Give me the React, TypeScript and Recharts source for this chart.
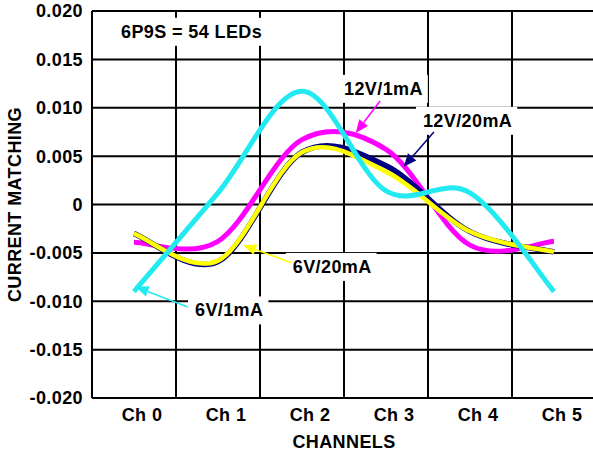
import React, { useLayoutEffect, useRef, useState } from 'react';
import { LineChart, Line, XAxis, YAxis, CartesianGrid, ReferenceDot, ReferenceLine } from 'recharts';

// channel index and the four measured curves
const channels = [0, 1, 2, 3, 4, 5];
const channelNames = ['Ch 0', 'Ch 1', 'Ch 2', 'Ch 3', 'Ch 4', 'Ch 5'];
const v6_1mA = [-0.009, 0.0012, 0.0117, 0.0014, 0.0012, -0.009];
const v12_1mA = [-0.0039, -0.0038, 0.0067, 0.0057, -0.0042, -0.0038];
const v12_20mA = [-0.003, -0.0059, 0.0054, 0.004, -0.0028, -0.0049];
const v6_20mA = [-0.003, -0.0058, 0.0054, 0.0034, -0.0028, -0.0049];

const yTicks = [-0.02, -0.015, -0.01, -0.005, 0, 0.005, 0.01, 0.015, 0.02];
// cell borders sit half way between the channels
const cellEdges = [-0.5, 0.5, 1.5, 2.5, 3.5, 4.5, 5.5];

// notes: text, left/middle point of text, arrow from -> to (data units)
const notes = [
  { text: '6P9S = 54 LEDs', x: -0.155, y: 0.0179 },
  { text: '12V/1mA', x: 2.5, y: 0.012, color: '#ff00ff', from: [2.93, 0.0107], to: [2.64, 0.0074] },
  { text: '12V/20mA', x: 3.44, y: 0.0087, color: '#000080', from: [3.57, 0.0075], to: [3.21, 0.0039] },
  { text: '6V/20mA', x: 1.89, y: -0.0064, color: '#ffff00', from: [1.87, -0.006], to: [1.3, -0.0042] },
  { text: '6V/1mA', x: 0.726, y: -0.0109, color: '#22eaf0', from: [0.64, -0.0106], to: [0.02, -0.0085] },
];

const data = channels.map((ch, i) => ({
  ch,
  a: v6_1mA[i],
  b: v12_1mA[i],
  c: v12_20mA[i],
  d: v6_20mA[i],
}));

const font = '"Liberation Sans", Arial, sans-serif';
const txt = { fontFamily: font, fontWeight: 700, fontSize: 18, fill: '#000', letterSpacing: 0.4 };

// smooth curve like the spreadsheet "smoothed line" (catmull-rom)
function smoothCurve(context: any) {
  let pts: number[][] = [];
  return {
    areaStart() {},
    areaEnd() {},
    lineStart() {
      pts = [];
    },
    lineEnd() {
      const n = pts.length;
      if (!n) return;
      context.moveTo(pts[0][0], pts[0][1]);
      for (let i = 0; i < n - 1; i++) {
        const p0 = pts[Math.max(i - 1, 0)];
        const p1 = pts[i];
        const p2 = pts[i + 1];
        const p3 = pts[Math.min(i + 2, n - 1)];
        context.bezierCurveTo(
          p1[0] + (p2[0] - p0[0]) / 6,
          p1[1] + (p2[1] - p0[1]) / 6,
          p2[0] - (p3[0] - p1[0]) / 6,
          p2[1] - (p3[1] - p1[1]) / 6,
          p2[0],
          p2[1]
        );
      }
    },
    point(x: number, y: number) {
      pts.push([+x, +y]);
    },
  };
}

const NoteBox = ({ cx, cy, text }: any) => {
  const ref = useRef<SVGTextElement>(null);
  const [box, setBox] = useState<any>(null);
  useLayoutEffect(() => {
    if (ref.current) {
      const b = ref.current.getBBox();
      setBox({ x: b.x, y: b.y, width: b.width, height: b.height });
    }
  }, [cx, cy, text]);
  return (
    <g>
      {box && <rect x={box.x - 7} y={box.y - 4} width={box.width + 12} height={box.height + 8} fill="#fff" />}
      <text ref={ref} x={cx} y={cy} dy="0.36em" style={txt}>
        {text}
      </text>
    </g>
  );
};

const Arrow = ({ x1, y1, x2, y2, color }: any) => {
  const dx = x2 - x1;
  const dy = y2 - y1;
  const len = Math.sqrt(dx * dx + dy * dy) || 1;
  const ux = dx / len;
  const uy = dy / len;
  const head = 13;
  const half = 5.5;
  const bx = x2 - ux * head;
  const by = y2 - uy * head;
  return (
    <g>
      <line x1={x1} y1={y1} x2={bx} y2={by} stroke={color} strokeWidth={1.5} />
      <polygon
        points={`${x2},${y2} ${bx - uy * half},${by + ux * half} ${bx + uy * half},${by - ux * half}`}
        fill={color}
      />
    </g>
  );
};

export default function App() {
  return (
    <div style={{ position: 'fixed', left: 0, top: 0, width: 593, height: 454, overflow: 'hidden', background: '#fff' }}>
      <LineChart width={600} height={454} data={data} margin={{ top: 11, right: 4, left: 0, bottom: 0 }}>
        <CartesianGrid stroke="#000" strokeWidth={2} vertical={false} />
        {cellEdges.map((e) => (
          <ReferenceLine key={'edge-' + e} x={e} stroke="#000" strokeWidth={2} {...({ zIndex: -90 } as any)} />
        ))}
        <XAxis
          dataKey="ch"
          type="number"
          domain={[-0.5, 5.5]}
          ticks={channels}
          tickFormatter={(v: number) => channelNames[v]}
          tick={{ ...txt, dx: 8 }}
          tickLine={false}
          tickSize={0}
          tickMargin={10}
          axisLine={{ stroke: '#000', strokeWidth: 2 }}
          height={56}
          label={{ value: 'CHANNELS', position: 'insideBottom', offset: 6, style: txt }}
        />
        <YAxis
          type="number"
          domain={[-0.02, 0.02]}
          ticks={yTicks}
          tickFormatter={(v: number) => (v === 0 ? '0' : v.toFixed(3))}
          tick={txt}
          tickLine={false}
          tickSize={0}
          tickMargin={9}
          axisLine={{ stroke: '#000', strokeWidth: 2 }}
          width={92}
          label={{
            value: 'CURRENT MATCHING',
            angle: -90,
            position: 'insideLeft',
            offset: 15,
            style: { ...txt, textAnchor: 'middle' },
          }}
        />
        {notes.map((n) => (
          <ReferenceDot
            key={n.text}
            x={n.x}
            y={n.y}
            r={0}
            {...({ zIndex: -80 } as any)}
            shape={(p: any) => <NoteBox cx={p.cx} cy={p.cy} text={n.text} />}
          />
        ))}
        <Line dataKey="b" type={smoothCurve as any} stroke="#ff00ff" strokeWidth={5} dot={false} activeDot={false} isAnimationActive={false} />
        <Line dataKey="c" type={smoothCurve as any} stroke="#000080" strokeWidth={5.5} dot={false} activeDot={false} isAnimationActive={false} />
        <Line dataKey="d" type={smoothCurve as any} stroke="#ffff00" strokeWidth={4.5} dot={false} activeDot={false} isAnimationActive={false} />
        <Line dataKey="a" type={smoothCurve as any} stroke="#22eaf0" strokeWidth={5} dot={false} activeDot={false} isAnimationActive={false} />
        {notes
          .filter((n) => n.from)
          .map((n) => (
            <ReferenceLine
              key={'arrow-' + n.text}
              segment={[
                { x: n.from![0], y: n.from![1] },
                { x: n.to![0], y: n.to![1] },
              ]}
              {...({ zIndex: 1000 } as any)}
              shape={(p: any) => <Arrow x1={p.x1} y1={p.y1} x2={p.x2} y2={p.y2} color={n.color} />}
            />
          ))}
      </LineChart>
    </div>
  );
}
